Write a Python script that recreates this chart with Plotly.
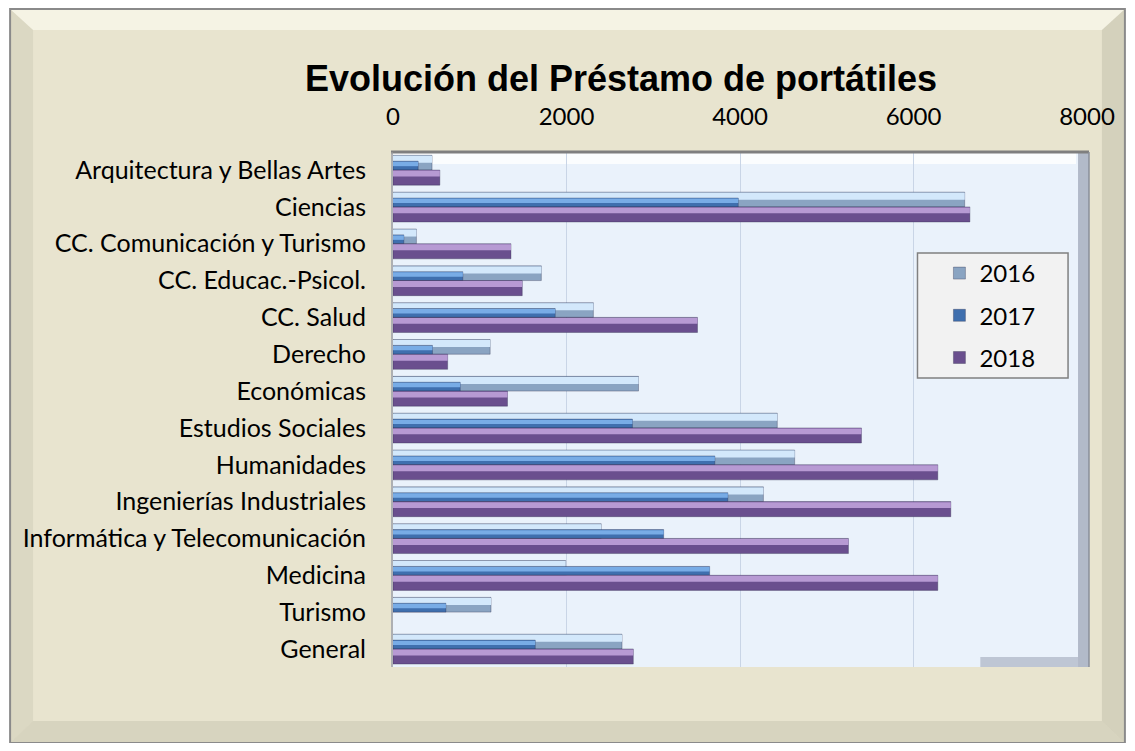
import plotly.graph_objects as go

categories = ["Arquitectura y Bellas Artes", "Ciencias", "CC. Comunicación y Turismo",
              "CC. Educac.-Psicol.", "CC. Salud", "Derecho", "Económicas",
              "Estudios Sociales", "Humanidades", "Ingenierías Industriales",
              "Informática y Telecomunicación", "Medicina", "Turismo", "General"]
v2016 = [450, 6590, 270, 1710, 2310, 1120, 2830, 4430, 4630, 4270, 2400, 1990, 1130, 2640]
v2017 = [290, 3980, 125, 805, 1870, 455, 775, 2760, 3710, 3860, 3120, 3650, 610, 1640]
v2018 = [540, 6650, 1360, 1490, 3510, 630, 1320, 5400, 6280, 6430, 5250, 6280, None, 2770]
years = ["2016", "2017", "2018"]
x_ticks = [0, 2000, 4000, 6000, 8000]

# page has an 8px body margin; figure fills the rest
M = 8
W, H = 1135 - 2 * M, 751 - 2 * M
L, R, T, B = 393, 1089, 152, 667   # plot area in page pixels

def px(x):
    return (x - L) / (R - L)

def py(y):
    return (B - y) / (B - T)

series = [
    (years[0], v2016, "#8aa4c2", "#d3e8fb", -0.40, 0.40, 0.19),
    (years[1], v2017, "#3f6fae", "#78ace6", -0.24, 0.24, 0.12),
    (years[2], v2018, "#6a4f8e", "#b79ad3", 0.00, 0.41, 0.16),
]

fig = go.Figure()
for name, vals, dark, light, off, wid, hlw in series:
    fig.add_trace(go.Bar(
        y=categories, x=vals, orientation="h", name=name,
        marker=dict(color=dark, line=dict(width=0.6, color="rgba(40,40,70,0.55)")),
        offset=off, width=wid, legendgroup=name))
    fig.add_trace(go.Bar(
        y=categories, x=vals, orientation="h", name=name, showlegend=False,
        marker=dict(color=light, line=dict(width=0)),
        offset=off + 0.015, width=hlw, legendgroup=name, hoverinfo="skip"))

shapes = []
# outer frame
shapes.append(dict(type="rect", xref="paper", yref="paper",
                   x0=px(9), x1=px(1127), y0=py(9), y1=py(743),
                   fillcolor="#e8e4cf", line=dict(color="#8a8a8a", width=2), layer="below"))
# bevels
shapes.append(dict(type="path", xref="paper", yref="paper",
                   path=f"M{px(10)},{py(10)} L{px(1126)},{py(10)} L{px(1104)},{py(30)} L{px(32)},{py(30)} Z",
                   fillcolor="rgba(255,255,245,0.55)", line=dict(width=0), layer="below"))
shapes.append(dict(type="path", xref="paper", yref="paper",
                   path=f"M{px(10)},{py(10)} L{px(32)},{py(30)} L{px(32)},{py(721)} L{px(10)},{py(742)} Z",
                   fillcolor="rgba(150,150,130,0.15)", line=dict(width=0), layer="below"))
shapes.append(dict(type="path", xref="paper", yref="paper",
                   path=f"M{px(10)},{py(742)} L{px(32)},{py(721)} L{px(1104)},{py(721)} L{px(1126)},{py(742)} Z",
                   fillcolor="rgba(150,150,130,0.20)", line=dict(width=0), layer="below"))
shapes.append(dict(type="path", xref="paper", yref="paper",
                   path=f"M{px(1126)},{py(10)} L{px(1126)},{py(742)} L{px(1104)},{py(721)} L{px(1104)},{py(30)} Z",
                   fillcolor="rgba(150,150,130,0.25)", line=dict(width=0), layer="below"))
# plot panel
shapes.append(dict(type="rect", xref="paper", yref="paper",
                   x0=px(391), x1=px(1091), y0=py(152), y1=py(667),
                   fillcolor="#eaf2fb", line=dict(width=0), layer="below"))
shapes.append(dict(type="rect", xref="paper", yref="paper",
                   x0=px(393), x1=px(1078), y0=py(153), y1=py(164),
                   fillcolor="rgba(255,255,255,0.8)", line=dict(width=0), layer="below"))
# right wall and floor shading
shapes.append(dict(type="rect", xref="paper", yref="paper",
                   x0=px(1080), x1=px(1091), y0=py(152), y1=py(667),
                   fillcolor="rgba(110,118,140,0.45)", line=dict(width=0), layer="above"))
shapes.append(dict(type="rect", xref="paper", yref="paper",
                   x0=px(982), x1=px(1080), y0=py(657), y1=py(667),
                   fillcolor="rgba(110,118,140,0.35)", line=dict(width=0), layer="below"))
shapes.append(dict(type="line", xref="paper", yref="paper",
                   x0=px(391), x1=px(1091), y0=py(152), y1=py(152),
                   line=dict(color="#7f7f7f", width=3), layer="above"))
shapes.append(dict(type="line", xref="paper", yref="paper",
                   x0=px(392), x1=px(392), y0=py(152), y1=py(667),
                   line=dict(color="#9a9a9a", width=1.5), layer="above"))
shapes.append(dict(type="line", xref="paper", yref="paper",
                   x0=px(1091), x1=px(1091), y0=py(152), y1=py(667),
                   line=dict(color="#8a8f9a", width=1.5), layer="above"))
# legend box
shapes.append(dict(type="rect", xref="paper", yref="paper",
                   x0=px(919), x1=px(1070), y0=py(253), y1=py(378),
                   fillcolor="#f2f2f2", line=dict(color="#808080", width=1.5), layer="above"))

fig.update_layout(
    width=W, height=H,
    margin=dict(l=L - M, r=(M + W) - R, t=T - M, b=(M + H) - B),
    paper_bgcolor="white",
    plot_bgcolor="rgba(0,0,0,0)",
    barmode="overlay",
    shapes=shapes,
    title=dict(text="<b>Evolución del Préstamo de portátiles</b>",
               font=dict(family="Liberation Sans, Arial", size=36, color="black"),
               x=(621 - M) / W, xanchor="center", xref="container",
               y=1 - (78 - M) / H, yanchor="middle", yref="container"),
    xaxis=dict(side="top", range=[0, 8000], tickvals=x_ticks,
               ticktext=[str(t) for t in x_ticks],
               showgrid=True, gridcolor="#c9d5e6", gridwidth=1,
               zeroline=False, showline=False, ticks="",
               ticklabelstandoff=21,
               tickfont=dict(family="Lato, Open Sans", size=24, color="black")),
    yaxis=dict(autorange=False, range=[13.49, -0.49], categoryorder="array",
               categoryarray=categories, showgrid=False, zeroline=False, ticks="",
               ticklabelstandoff=26,
               tickfont=dict(family="Lato, Open Sans", size=25, color="black")),
    legend=dict(x=px(941), y=py(251), xanchor="left", yanchor="top",
                bgcolor="rgba(0,0,0,0)", borderwidth=0,
                traceorder="grouped", tracegroupgap=8,
                font=dict(family="Lato, Open Sans", size=24, color="black")),
    showlegend=True,
)

fig.write_html("out.html")
